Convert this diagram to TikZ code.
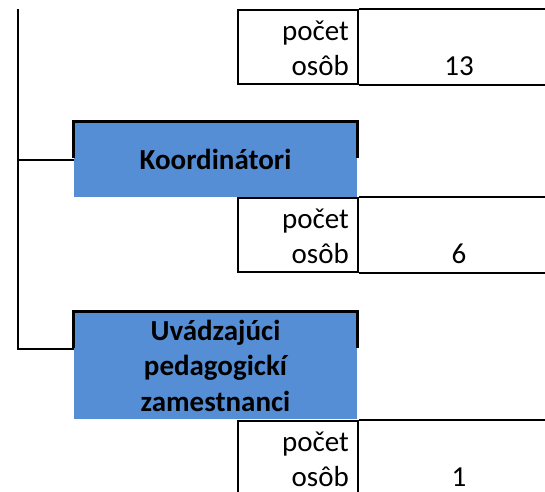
\documentclass[tikz,border=0pt]{standalone}
\usepackage{fontspec}
\setmainfont{Carlito}
\usepackage{tikz}
\usetikzlibrary{positioning}
\usepackage{xcolor}
\definecolor{roleblue}{RGB}{85,142,213}

\begin{document}
\begin{tikzpicture}[x=1pt, y=-1pt]
  \tikzstyle{every node}=[inner sep=0pt, font=\fontsize{29}{35.5}\selectfont]
  \tikzstyle{rolebox}=[rectangle, fill=roleblue, minimum width=283pt, align=center, font=\fontsize{29}{35.5}\selectfont\bfseries]
  \tikzstyle{cell}=[rectangle, draw, line width=2pt, minimum width=120pt, minimum height=73.5pt]
  \tikzstyle{lbl}=[align=right, anchor=south east, inner xsep=10pt, inner ysep=0pt]
  \tikzstyle{num}=[anchor=base]
  \useasboundingbox (0,0) rectangle (545,491);
  \coordinate (top) at (18,9);
  \coordinate (edge) at (545,0);

  \node [cell] (c1) at (298,46.75) {};
  \node [lbl] (l1) at ([yshift=8.5pt]c1.south east) {počet\\osôb};
  \node [num] (v1) at (459,75) {13};

  \node [rolebox, minimum height=75pt] (k) at (215.5,159.5) {Koordinátori};

  \node [cell] (c2) at (298,234.75) {};
  \node [lbl] (l2) at ([yshift=8.5pt]c2.south east) {počet\\osôb};
  \node [num] (v2) at (459,263) {6};

  \node [rolebox, minimum height=107pt] (u) at (215.5,365.5) {Uvádzajúci\\pedagogickí\\zamestnanci};

  \node [cell] (c3) at (298,457.75) {};
  \node [lbl] (l3) at ([yshift=8.5pt]c3.south east) {počet\\osôb};
  \node [num] (v3) at (459,486) {1};

  % box rims
  \draw [line width=3pt] ([yshift=-36pt]k.north west) -- (k.north west) -- (k.north east) -- ([yshift=-36pt]k.north east);
  \draw [line width=3pt] ([yshift=-36pt]u.north west) -- (u.north west) -- (u.north east) -- ([yshift=-36pt]u.north east);

  % value cells
  \draw [line width=2pt] (c1.north east) -- (c1.north east -| edge);
  \draw [line width=2pt] (c1.south east) -- (c1.south east -| edge);
  \draw [line width=2pt] (c2.north east) -- (c2.north east -| edge);
  \draw [line width=2pt] (c2.south east) -- (c2.south east -| edge);
  \draw [line width=2pt] (c3.north east) -- (c3.north east -| edge);

  \draw [line width=2pt] (top) |- ([yshift=-37pt]u.north west);
  \draw [line width=2pt] (top |- k.west) -- (k.west);
\end{tikzpicture}
\end{document}
